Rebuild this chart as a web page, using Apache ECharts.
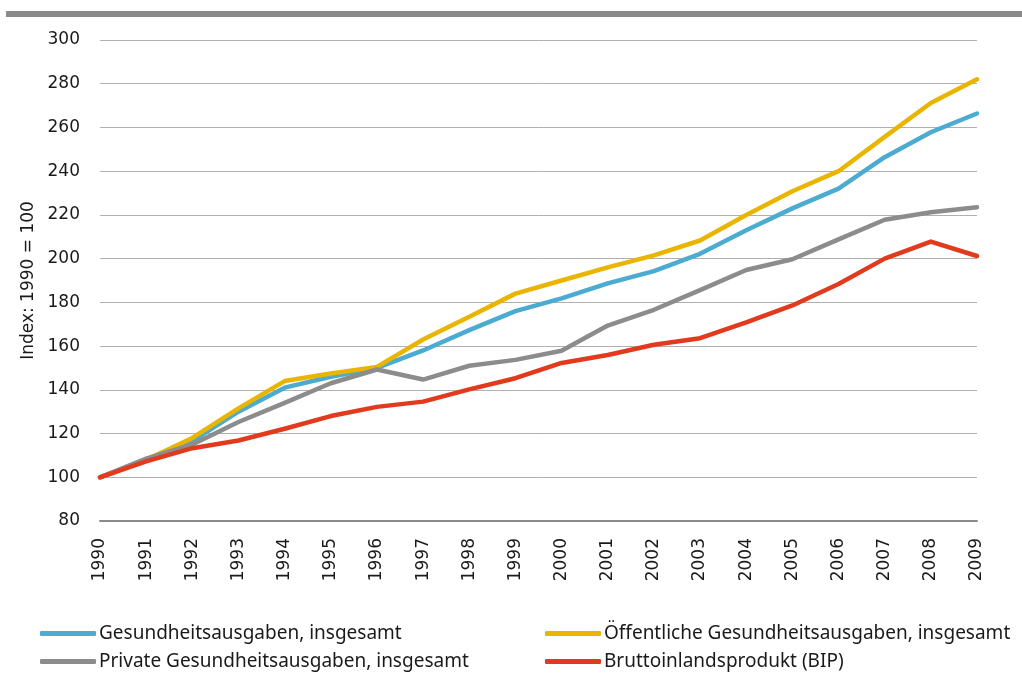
<!DOCTYPE html>
<html>
<head>
<meta charset="utf-8">
<script src="https://cdn.jsdelivr.net/npm/echarts@6/dist/echarts.min.js"></script>
<style>
  html, body { margin: 0; padding: 0; background: #fff; }
  #bar { position: absolute; left: 6px; top: 11px; width: 1016px; height: 6px; background: #8a8a8a; }
  #main { width: 1022px; height: 691px; }
</style>
</head>
<body>
<div id="bar"></div>
<div id="main"></div>
<script>
const years = ['1990', '1991', '1992', '1993', '1994', '1995', '1996', '1997', '1998', '1999',
  '2000', '2001', '2002', '2003', '2004', '2005', '2006', '2007', '2008', '2009']
// Index 1990 = 100
const gesamt = [100, 108, 116.5, 130, 141, 146, 150, 158, 167.3, 176, 181.8, 188.7, 194.3, 202.2, 213, 223, 232, 246.4, 257.8, 266.4]
const oeffentlich = [100, 108, 118, 131.5, 144, 147.5, 150.5, 163, 173.4, 184, 190, 196, 201.5, 208.3, 220, 230.8, 240, 255.7, 271.2, 282]
const privat = [100, 108.5, 115, 125.3, 134, 143, 149.3, 144.7, 151, 153.7, 157.9, 169.4, 176.6, 185.6, 194.8, 199.7, 208.8, 217.8, 221.2, 223.5]
const bip = [100, 107.3, 113.3, 116.8, 122.2, 128, 132.2, 134.6, 140.2, 145.3, 152.3, 155.9, 160.6, 163.6, 170.8, 178.6, 188.4, 200, 207.8, 201.2]

const names = [
  'Gesundheitsausgaben, insgesamt',
  'Öffentliche Gesundheitsausgaben, insgesamt',
  'Private Gesundheitsausgaben, insgesamt',
  'Bruttoinlandsprodukt (BIP)'
]
const colors = ['#4babd0', '#e9b500', '#8c8c8c', '#e23a1c']
const font = 'Noto Sans'
const axisFont = 'DejaVu Sans'

const myChart = echarts.init(document.getElementById('main'))

function line (name, data, color) {
  return {
    name: name,
    type: 'line',
    data: data,
    showSymbol: false,
    symbol: 'none',
    lineStyle: { color: color, width: 4.5, cap: 'round', join: 'round' },
    itemStyle: { color: color }
  }
}

const legendBase = {
  orient: 'vertical',
  icon: 'roundRect',
  padding: 0,
  itemWidth: 56,
  itemHeight: 5,
  itemGap: 9,
  textStyle: { fontFamily: font, fontSize: 19, color: '#1a1a1a', padding: [0, 0, 0, -2] }
}

const option = {
  animation: false,
  textStyle: { fontFamily: font },
  grid: { left: 100, right: 45, top: 40, bottom: 170 },
  legend: [
    Object.assign({ left: 40, top: 624, data: [names[0], names[2]] }, legendBase),
    Object.assign({ left: 545, top: 624, data: [names[1], names[3]] }, legendBase)
  ],
  xAxis: {
    type: 'category',
    data: years,
    boundaryGap: false,
    axisLine: { lineStyle: { color: '#8a8a8a', width: 2 } },
    axisTick: { show: false },
    axisLabel: { rotate: 90, fontSize: 17, color: '#1a1a1a', margin: 17, fontFamily: axisFont }
  },
  yAxis: {
    type: 'value',
    min: 80,
    max: 300,
    interval: 20,
    name: 'Index: 1990 = 100',
    nameLocation: 'middle',
    nameRotate: 90,
    nameGap: 60,
    nameTextStyle: { fontSize: 17, color: '#1a1a1a', fontFamily: axisFont },
    axisLine: { show: false },
    axisTick: { show: false },
    axisLabel: { fontSize: 17, color: '#1a1a1a', margin: 20, fontFamily: axisFont },
    splitLine: { lineStyle: { color: '#b0b0b0', width: 1 } }
  },
  series: [
    line(names[0], gesamt, colors[0]),
    line(names[1], oeffentlich, colors[1]),
    line(names[2], privat, colors[2]),
    line(names[3], bip, colors[3])
  ]
}
myChart.setOption(option)
</script>
</body>
</html>
